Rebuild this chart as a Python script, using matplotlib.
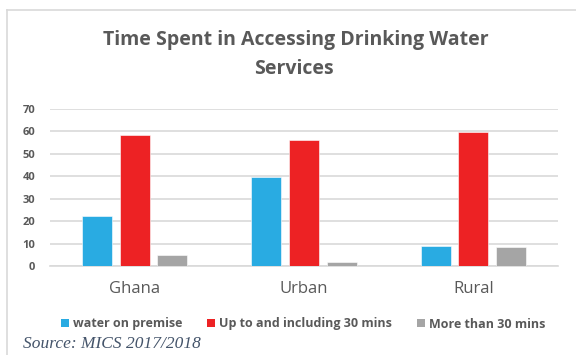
import matplotlib
matplotlib.use("Agg")
import matplotlib.pyplot as plt
import numpy as np
from matplotlib.lines import Line2D
from matplotlib.patches import Patch

categories = ["Ghana", "Urban", "Rural"]
series_names = ["water on premise", "Up to and including 30 mins", "More than 30 mins"]
water_on_premise = [22.2, 39.8, 9.1]
up_to_30 = [58.4, 56.0, 59.9]
more_than_30 = [5.0, 1.6, 8.3]
yticks = [0, 10, 20, 30, 40, 50, 60, 70]
title_lines = ["Time Spent in Accessing Drinking Water", "Services"]
source = "Source: MICS 2017/2018"

colors = ["#29ABE2", "#ED2224", "#A5A5A5"]
W, H = 576, 355
fig = plt.figure(figsize=(W / 100, H / 100), dpi=100)
ax = fig.add_axes([50 / W, 1 - 266 / H, (558 - 50) / W, (266 - 109) / H])

x = np.arange(len(categories))
bw = 0.178
pitch = 0.223
for i, (vals, c, name) in enumerate(zip([water_on_premise, up_to_30, more_than_30], colors, series_names)):
    ax.bar(x + (i - 1) * pitch, vals, width=bw, color=c, label=name, zorder=3,
           edgecolor="white", linewidth=0.4)

ax.set_xlim(-0.5, 2.5)
ax.set_ylim(0, 70)
ax.set_yticks(yticks)
ax.set_yticklabels([str(v) for v in yticks], fontsize=8, fontweight="bold",
                   color="#595959", family="Open Sans")
ax.yaxis.grid(True, color="#D9D9D9", linewidth=1.2, zorder=0)
ax.set_axisbelow(True)
ax.tick_params(axis="y", length=0, pad=10.5)
ax.tick_params(axis="x", length=0, pad=11)
ax.set_xticks(x)
ax.set_xticklabels(categories, fontsize=12, color="#595959", family="Open Sans")
for s in ["top", "right", "left"]:
    ax.spines[s].set_visible(False)
ax.spines["bottom"].set_color("#D9D9D9")
ax.spines["bottom"].set_linewidth(1.2)

fig.text(296 / W, 1 - 40 / H, title_lines[0], ha="center", va="center",
         fontsize=14, fontweight="bold", color="#595959", family="Open Sans")
fig.text(294 / W, 1 - 69 / H, title_lines[1], ha="center", va="center",
         fontsize=14, fontweight="bold", color="#595959", family="Open Sans")

handles = [Patch(facecolor=c, edgecolor="none") for c in colors]
leg = fig.legend(handles, series_names, loc="center", bbox_to_anchor=(303 / W, 1 - 324 / H),
                 ncol=3, frameon=False, handlelength=0.65, handleheight=0.65, handletextpad=0.3,
                 columnspacing=2.0, borderpad=0, prop={"family": "Open Sans", "weight": "bold", "size": 9})
for t in leg.get_texts():
    t.set_color("#595959")

fig.text(23 / W, 1 - 344 / H, source, ha="left", va="center", fontsize=12.5, style="italic",
         color="#44546A", family="Liberation Serif")

fig.add_artist(Line2D([7 / W, 1], [1 - 10 / H, 1 - 10 / H], color="#D9D9D9", linewidth=1.2,
                      transform=fig.transFigure))
fig.add_artist(Line2D([7 / W, 7 / W], [1 - 10 / H, 0], color="#D9D9D9", linewidth=1.2,
                      transform=fig.transFigure))

fig.savefig("out.png", dpi=100)
